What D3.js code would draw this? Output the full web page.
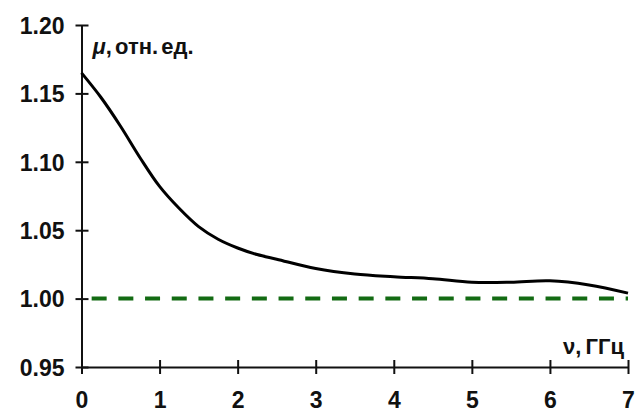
<!DOCTYPE html>
<html>
<head>
<meta charset="utf-8">
<script src="https://cdn.jsdelivr.net/npm/d3@7"></script>
<style>
  body { margin: 0; background: #fff; }
  svg text { font-family: "Liberation Sans", Arial, sans-serif; font-weight: bold; fill: #111; }
</style>
</head>
<body>
<svg></svg>
<script>
// frequency, GHz
var freq = [0, 0.25, 0.5, 0.75, 1, 1.25, 1.5, 1.75, 2, 2.25, 2.5, 3, 3.5, 4, 4.5, 5, 5.5, 6, 6.5, 7];
// permeability, rel. units
var mu = [1.165, 1.147, 1.126, 1.103, 1.082, 1.066, 1.0526, 1.0434, 1.037, 1.0322, 1.0288, 1.022, 1.018, 1.016, 1.0145, 1.012, 1.012, 1.013, 1.010, 1.004];
// reference level mu = 1
var refX = [0.13, 7];
var refY = [1.00, 1.00];

var xTicks = [0, 1, 2, 3, 4, 5, 6, 7];
var yTicks = [0.95, 1.00, 1.05, 1.10, 1.15, 1.20];

var svg = d3.select("svg"),
    margin = {top: 25, right: 8, bottom: 46, left: 81.5},
    width = 636 - margin.left - margin.right,
    height = 413 - margin.top - margin.bottom;

svg = svg.attr("width", width + margin.left + margin.right)
  .attr("height", height + margin.top + margin.bottom)
  .append("g")
  .attr("transform", "translate(" + margin.left + "," + margin.top + ")");

var xScale = d3.scaleLinear().domain([0, 7]).range([0, width]);
var yScale = d3.scaleLinear().domain([0.95, 1.20]).range([height, 0]);

// x-axis
var xAxisEl = svg.append("g")
    .attr("transform", "translate(0," + height + ")")
    .call(d3.axisBottom(xScale).tickValues(xTicks).tickFormat(d3.format("d")).tickSizeOuter(0));
xAxisEl.select(".domain").attr("stroke", "#111").attr("stroke-width", 2);
xAxisEl.selectAll(".tick line").attr("y1", -7).attr("y2", 7).attr("stroke", "#111").attr("stroke-width", 2);
xAxisEl.selectAll(".tick text").attr("y", 41).attr("dy", null).style("font-size", "23px");

// y-axis
var yAxisEl = svg.append("g")
    .call(d3.axisLeft(yScale).tickValues(yTicks).tickFormat(d3.format(".2f")).tickSizeOuter(0));
yAxisEl.select(".domain").attr("stroke", "#111").attr("stroke-width", 2);
yAxisEl.selectAll(".tick line").attr("x1", -6).attr("x2", 7).attr("stroke", "#111").attr("stroke-width", 2);
yAxisEl.selectAll(".tick text").attr("x", -17).attr("dy", "0.36em").style("font-size", "23px");

// dashed reference line
svg.append("path")
    .datum(d3.zip(refX, refY))
    .attr("fill", "none")
    .attr("stroke", "#136b13")
    .attr("stroke-width", 4)
    .attr("stroke-dasharray", "15,11.7")
    .attr("d", d3.line().x(function(d) { return xScale(d[0]); }).y(function(d) { return yScale(d[1]); }));

// mu(nu) curve
svg.append("path")
    .datum(d3.zip(freq, mu))
    .attr("fill", "none")
    .attr("stroke", "#000")
    .attr("stroke-width", 3)
    .attr("d", d3.line().curve(d3.curveCatmullRom.alpha(0.5))
      .x(function(d) { return xScale(d[0]); })
      .y(function(d) { return yScale(d[1]); }));

// axis titles
var yTitle = svg.append("text")
    .attr("x", 11)
    .attr("y", 28.5)
    .style("font-size", "22px")
    .style("word-spacing", "-3px");
yTitle.append("tspan").style("font-style", "italic").text("μ");
yTitle.append("tspan").text(", отн. ед.");

svg.append("text")
    .attr("x", width - 4)
    .attr("y", height - 13)
    .style("text-anchor", "end")
    .style("font-size", "22px")
    .style("word-spacing", "-2px")
    .text("ν, ГГц");
</script>
</body>
</html>
